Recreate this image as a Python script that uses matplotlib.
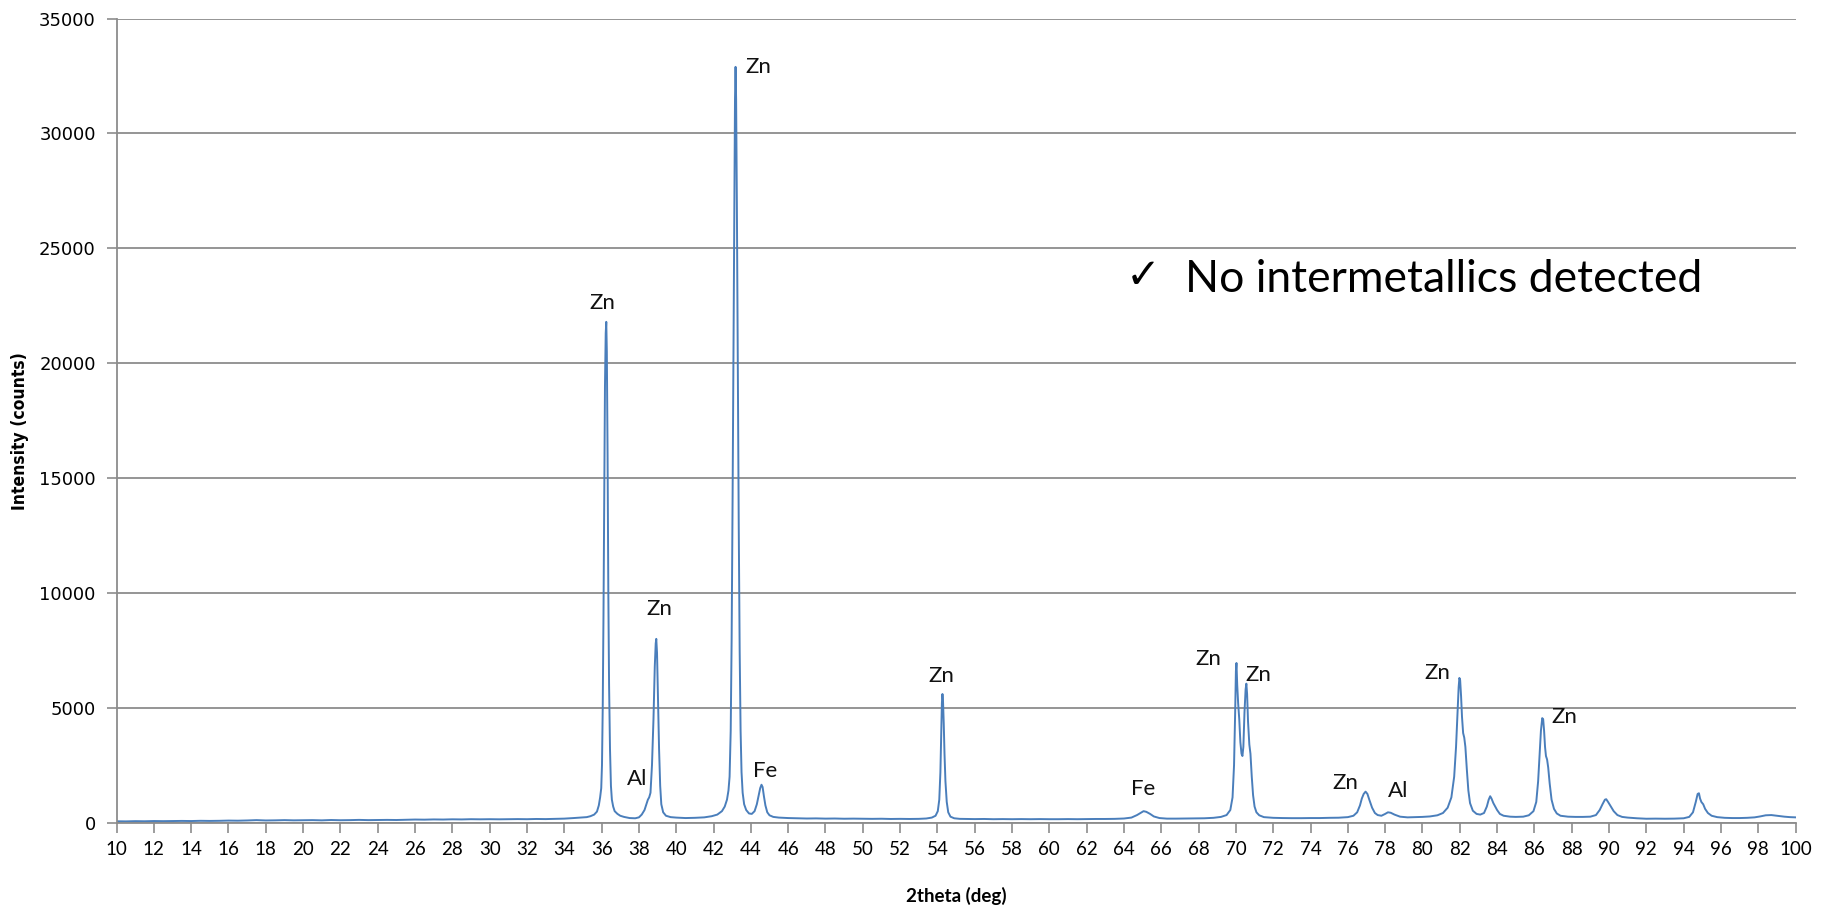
import matplotlib.pyplot as plt

# XRD scan (2theta in deg, intensity in counts)
two_theta = [
    10.0, 10.5, 11.0, 11.5, 12.0, 12.5, 13.0, 13.5, 14.0, 14.5, 15.0, 15.5,
    16.0, 16.5, 17.0, 17.5, 18.0, 18.5, 19.0, 19.5, 20.0, 20.5, 21.0, 21.5,
    22.0, 22.5, 23.0, 23.5, 24.0, 24.5, 25.0, 25.5, 26.0, 26.5, 27.0, 27.5,
    28.0, 28.5, 29.0, 29.5, 30.0, 30.5, 31.0, 31.5, 32.0, 32.5, 33.0, 33.5,
    34.0, 34.5, 35.0,
    35.2, 35.4, 35.6, 35.75, 35.85, 35.92, 35.98, 36.02, 36.06, 36.1, 36.14,
    36.18, 36.22, 36.25, 36.28, 36.32, 36.36, 36.4, 36.45, 36.5, 36.55, 36.62,
    36.7, 36.85, 37.0, 37.2, 37.5, 37.8,
    38.0, 38.15, 38.3, 38.4, 38.48, 38.55, 38.62, 38.7, 38.78, 38.85, 38.9,
    38.93, 38.97, 39.02, 39.08, 39.14, 39.2, 39.3, 39.45, 39.7, 40.0, 40.5,
    41.0, 41.5, 41.9,
    42.2, 42.45, 42.6, 42.72, 42.8, 42.86, 42.92, 42.97, 43.02, 43.07, 43.11,
    43.15, 43.18, 43.21, 43.25, 43.3, 43.35, 43.4, 43.45, 43.5, 43.56, 43.64,
    43.75, 43.9, 44.05,
    44.2, 44.32, 44.42, 44.5, 44.57, 44.63, 44.7, 44.78, 44.88, 45.0, 45.2,
    45.5, 46.0, 46.5, 47.0, 47.5, 48.0, 48.5, 49.0, 49.5, 50.0, 50.5, 51.0,
    51.5, 52.0, 52.5, 53.0,
    53.4, 53.7, 53.9, 54.02, 54.1, 54.16, 54.2, 54.24, 54.27, 54.3, 54.34,
    54.38, 54.43, 54.5, 54.58, 54.7, 54.9, 55.2, 55.6,
    56.0, 56.5, 57.0, 57.5, 58.0, 58.5, 59.0, 59.5, 60.0, 60.5, 61.0, 61.5,
    62.0, 62.5, 63.0, 63.5, 64.0,
    64.4, 64.7, 64.9, 65.05, 65.2, 65.4, 65.6, 65.9, 66.3, 66.8, 67.3, 67.8,
    68.3, 68.8, 69.2,
    69.5, 69.7, 69.82, 69.9, 69.96, 70.0, 70.03, 70.07, 70.12, 70.18, 70.24,
    70.3, 70.35, 70.4, 70.46, 70.52, 70.56, 70.6, 70.65, 70.72, 70.78, 70.85,
    70.92, 71.0, 71.1, 71.25, 71.5, 72.0, 72.5, 73.0, 73.5, 74.0, 74.5, 75.0,
    75.5,
    76.0, 76.3, 76.5, 76.65, 76.75, 76.85, 76.95, 77.05, 77.15, 77.3, 77.45,
    77.6, 77.8, 78.0, 78.15, 78.3, 78.5, 78.8, 79.2, 79.6, 80.0, 80.4, 80.8,
    81.1, 81.35, 81.55, 81.7, 81.8, 81.88, 81.94, 81.98, 82.02, 82.07, 82.12,
    82.18, 82.24, 82.3, 82.38, 82.46, 82.55, 82.7, 82.9, 83.1,
    83.3, 83.45, 83.55, 83.63, 83.7, 83.8, 83.9, 84.0, 84.15, 84.35, 84.7,
    85.0, 85.4, 85.7, 85.95, 86.1, 86.2, 86.28, 86.35, 86.42, 86.47, 86.52,
    86.57, 86.62, 86.68, 86.74, 86.82, 86.92, 87.05, 87.2, 87.4, 87.8, 88.2,
    88.6, 89.0,
    89.3, 89.5, 89.65, 89.78, 89.85, 89.95, 90.1, 90.25, 90.45, 90.7, 91.0,
    91.5, 92.0, 92.5, 93.0, 93.5, 94.0,
    94.3, 94.5, 94.65, 94.75, 94.82, 94.88, 94.95, 95.05, 95.15, 95.3, 95.5,
    95.8, 96.2, 96.6, 97.0, 97.4, 97.8, 98.1, 98.4, 98.7, 99.0, 99.4, 99.7,
    100.0,
]
counts = [
    60, 55, 65, 60, 70, 65, 70, 75, 70, 80, 75, 80,
    90, 85, 95, 110, 95, 100, 110, 100, 105, 110, 100, 115,
    105, 110, 120, 110, 115, 120, 115, 125, 135, 130, 140, 135,
    145, 140, 150, 145, 150, 145, 150, 155, 150, 160, 155, 165,
    175, 200, 230,
    240, 280, 350, 480, 750, 1100, 1500, 2500, 5000, 9000, 14000,
    19000, 21300, 21800, 20500, 16000, 10000, 6000, 3200, 1600, 1000, 700,
    500, 380, 300, 250, 200, 190,
    230, 350, 550, 800, 1000, 1100, 1300, 2500, 4500, 6800, 7800,
    8000, 7400, 5500, 3200, 1600, 800, 450, 300, 240, 220, 200,
    210, 230, 280,
    350, 500, 700, 1000, 1400, 2000, 4000, 8000, 14000, 21000, 27000,
    31500, 32900, 31500, 27000, 20000, 13000, 7500, 4000, 2200, 1300, 800,
    550, 400, 380,
    500, 800, 1200, 1500, 1650, 1550, 1150, 750, 450, 320, 250,
    220, 200, 190, 180, 185, 175, 180, 170, 175, 170, 165, 170,
    160, 165, 160, 165,
    180, 220, 300, 500, 1000, 2200, 3800, 5200, 5600, 5300, 4300,
    3000, 1800, 900, 450, 260, 190, 165, 160,
    155, 160, 150, 155, 150, 155, 150, 155, 150, 150, 155, 150,
    155, 160, 160, 165, 180,
    220, 330, 430, 500, 470, 380, 270, 200, 175, 175, 180, 185,
    190, 210, 250,
    330, 550, 1100, 2500, 4800, 6600, 6950, 6000, 5200, 4500, 3500,
    3000, 2900, 3300, 4800, 5800, 6050, 5600, 4400, 3400, 3000, 2000,
    1200, 700, 450, 320, 240, 210, 200, 195, 195, 200, 200, 210,
    215,
    240, 300, 450, 750, 1050, 1250, 1350, 1250, 1000, 650, 420,
    330, 300, 380, 450, 430, 350, 260, 230, 240, 250, 270, 320,
    420, 650, 1100, 2000, 3300, 4800, 5900, 6300, 6200, 5500, 4600,
    3900, 3700, 3300, 2300, 1400, 850, 520, 380, 350,
    420, 700, 1000, 1150, 1050, 850, 700, 550, 380, 300, 260,
    250, 260, 320, 500, 900, 1800, 3000, 4000, 4550, 4500, 4000,
    3300, 2900, 2750, 2400, 1700, 1000, 600, 400, 300, 260, 250,
    250, 260,
    330, 550, 800, 1000, 1020, 900, 700, 500, 330, 250, 220,
    190, 170, 175, 170, 175, 190,
    250, 450, 900, 1250, 1280, 1050, 900, 800, 600, 420, 300,
    240, 210, 200, 200, 210, 230, 270, 320, 330, 300, 260, 240,
    230,
]

# phase labels placed over the peaks
label_text = ['Zn', 'Al', 'Zn', 'Zn', 'Fe', 'Zn', 'Fe', 'Zn', 'Zn', 'Zn', 'Al', 'Zn', 'Zn']
label_x = [36.05, 37.92, 39.1, 44.4, 44.79, 54.22, 65.03, 68.55, 71.2, 75.88, 78.7, 80.78, 87.58]
label_y = [22630, 1880, 9285, 32880, 2232, 6393, 1471, 7140, 6440, 1720, 1380, 6520, 4617]

grey = '#8c8c8c'

fig = plt.figure(figsize=(18.27, 9.09), dpi=100)
ax = fig.add_axes([0.0638, 0.095, 0.919, 0.8845])

ax.plot(two_theta, counts, color='#4a7ebb', lw=1.4)

for t, x, y in zip(label_text, label_x, label_y):
    ax.text(x, y, t, ha='center', va='center', fontsize=16, family='Lato', color='#111111')

ax.text(64.1, 23800, '\u2713', ha='left', va='center', fontsize=30, family='DejaVu Sans')
ax.text(67.27, 23650, 'No intermetallics detected', ha='left', va='center',
        fontsize=32, family='Lato')

ax.set_xlim(10, 100)
ax.set_ylim(0, 35000)
ax.set_xticks(range(10, 101, 2))
ax.set_yticks(range(0, 35001, 5000))
ax.tick_params(axis='x', direction='out', length=7, width=1.2, color=grey,
               labelsize=13.5, pad=6)
ax.tick_params(axis='y', direction='out', length=7, width=1.2, color=grey,
               labelsize=13, pad=8)
for lab in ax.get_xticklabels():
    lab.set_family('Lato')

ax.grid(axis='y', color=grey, lw=1.3)
ax.set_axisbelow(True)
for s in ['top', 'right']:
    ax.spines[s].set_visible(False)
for s in ['left', 'bottom']:
    ax.spines[s].set_color(grey)
    ax.spines[s].set_linewidth(1.3)

ax.set_xlabel('2theta (deg)', fontsize=13.5, fontweight='bold', family='Lato')
ax.set_ylabel('Intensity (counts)', fontsize=12.5, fontweight='bold', fontstretch='condensed')
ax.xaxis.set_label_coords(0.5, -0.08)
ax.yaxis.set_label_coords(-0.052, 0.487)

fig.savefig('out.png', dpi=100)
